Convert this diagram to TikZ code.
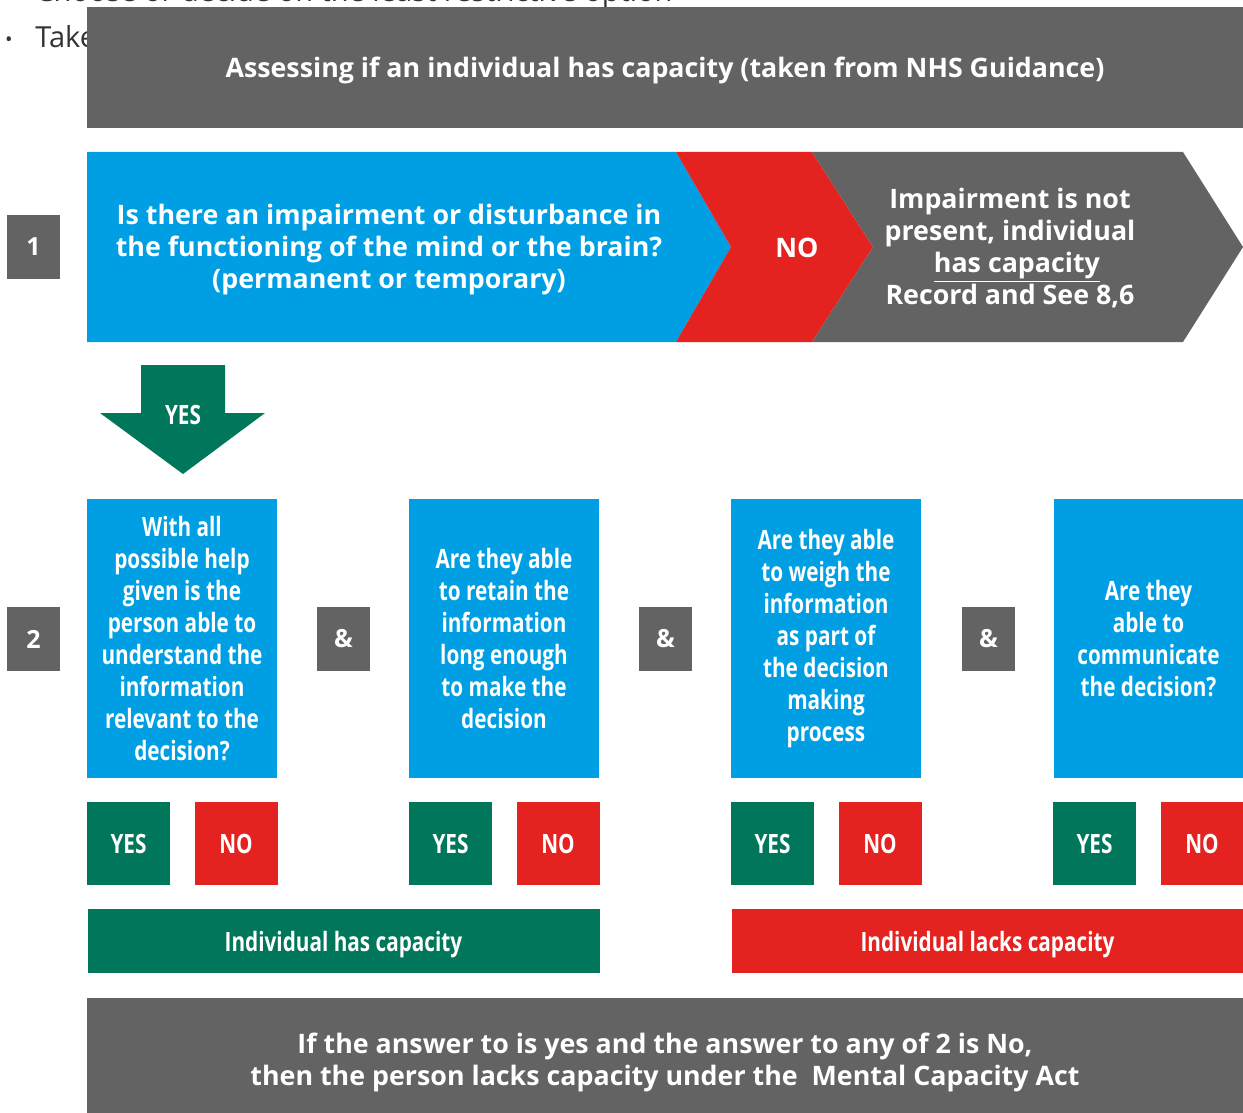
\documentclass[tikz,border=0pt]{standalone}
\usepackage{fontspec}
\setmainfont{Open Sans}
\newfontfamily\condfont[FakeStretch=0.78]{Open Sans}
\usepackage{tikz}
\usetikzlibrary{positioning}
\definecolor{mcGrey}{RGB}{99,99,99}
\definecolor{mcBlue}{RGB}{0,159,227}
\definecolor{mcRed}{RGB}{228,35,32}
\definecolor{mcGreen}{RGB}{0,119,90}
\begin{document}
\begin{tikzpicture}[x=0.5pt, y=-0.5pt,
    box/.style = {rectangle, fill=#1, text=white, inner sep=0pt,
      outer sep=0pt, align=center}, % coloured boxes
    box/.default = mcGrey,
    head/.style = {text=white, align=center, yshift=-1.5pt,
      font=\bfseries\fontsize{13.4}{16}\selectfont},
    cond/.style = {text=white, align=center, yshift=-1pt,
      font=\condfont\bfseries\fontsize{13.3}{16}\selectfont},
    num/.style = {box, minimum width=26.5pt, minimum height=32pt,
      font=\bfseries\fontsize{12.5}{14}\selectfont},
    question/.style = {box=mcBlue, minimum width=95pt, minimum height=139.5pt,
      font=\condfont\bfseries\fontsize{13.3}{16}\selectfont},
    answer/.style = {box=#1, minimum width=41.5pt, minimum height=41.5pt,
      font=\condfont\bfseries\fontsize{13.3}{16}\selectfont},
    result/.style = {box=#1, minimum width=256pt, minimum height=32pt,
      text depth=0pt, font=\condfont\bfseries\fontsize{13.3}{16}\selectfont},
    pagetext/.style = {anchor=base west, inner sep=0pt, text=black!80,
      font=\fontsize{14.5}{17}\selectfont},
  ]
  \useasboundingbox (0,0) rectangle (1243,1113);

  % text of the page behind the chart
  \node[pagetext] (prevline) at (35,2)
    {Choose or decide on the least restrictive option};
  \node[pagetext] (bullet) at (35,48) {Take};
  \node[anchor=base, inner sep=0pt, text=black!80,
    font=\fontsize{10}{12}\selectfont] (dot) at (9,47) {\textbullet};

  % title
  \node[box, minimum width=578pt, minimum height=60.5pt, anchor=north west]
    (title) at (87,7) {};
  \node[head] (titletext) at (665,67)
    {Assessing if an individual has capacity (taken from NHS Guidance)};

  % step 1
  \fill[mcBlue] (87,152) -- (676,152) -- (731,247) -- (676,342)
    -- (87,342) -- cycle;
  \fill[mcRed] (676,152) -- (812,152) -- (873,247) -- (812,342)
    -- (676,342) -- (731,247) -- cycle;
  \fill[mcGrey] (812,152) -- (1183,152) -- (1243,247) -- (1183,342)
    -- (812,342) -- (873,247) -- cycle;
  \node[head] (impair) at (389,247)
    {Is there an impairment or disturbance in\\
     the functioning of the mind or the brain?\\
     (permanent or temporary)};
  \node[head] (no) at (797,245) {NO};
  \node[head] (present) at (1010,245)
    {Impairment is not\\ present, individual\\
     \ \ \underline{has capacity}\\ Record and See 8,6};
  \node[num] (one) at (33.5,247) {1};

  % yes arrow
  \fill[mcGreen] (141,365) -- (225,365) -- (225,413) -- (265,413)
    -- (183,474) -- (100,413) -- (141,413) -- cycle;
  \node[cond] (yes) at (183,413) {YES};

  % step 2
  \node[num] (two) at (33.5,639) {2};
  \node[question] (Q-1) at (182,638.5) {With all\\ possible help\\
    given is the\\ person able to\\ understand the\\ information\\
    relevant to the\\ decision?};
  \node[question] (Q-2) at (504,638.5) {Are they able\\ to retain the\\
    information\\ long enough\\ to make the\\ decision};
  \node[question] (Q-3) at (826,638.5) {Are they able\\ to weigh the\\
    information\\ as part of\\ the decision\\ making\\ process};
  \node[question] (Q-4) at (1148.5,638.5) {Are they\\ able to\\
    communicate\\ the decision?};
  \foreach \x [count=\i] in {343.5,665.5,988.5}
    \node[num] (and-\i) at (\x,639) {\&};

  \foreach \x [count=\i] in {182,504,826,1148}{
    \node[answer=mcGreen] (Y-\i) at (\x-53.5,843.5) {YES};
    \node[answer=mcRed] (N-\i) at (\x+54,843.5) {NO};
  }

  \node[result=mcGreen] (has) at (343.5,941) {Individual has capacity};
  \node[result=mcRed] (lacks) at (987.5,941) {Individual lacks capacity};

  % conclusion
  \node[box, minimum width=578pt, minimum height=57.5pt, anchor=north west]
    (bottom) at (87,998) {};
  \node[head] (conclusion) at (665,1059)
    {If the answer to is yes and the answer to any of 2 is No,\\
     then the person lacks capacity under the\ \ Mental Capacity Act};
\end{tikzpicture}
\end{document}
